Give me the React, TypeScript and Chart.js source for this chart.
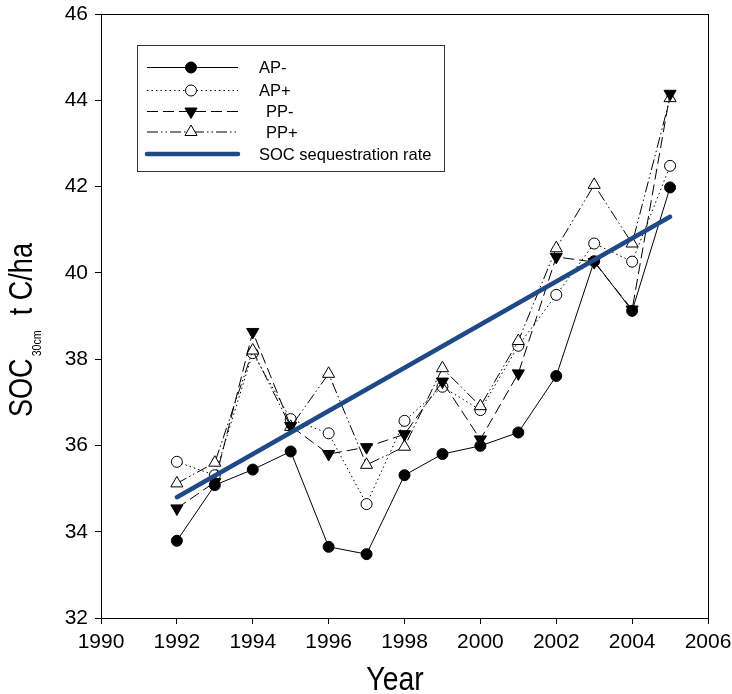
import React, { useEffect, useRef } from "react";
import { Chart, registerables } from "chart.js";

Chart.register(...registerables);

// ---- data ----
const years = [1992, 1993, 1994, 1995, 1996, 1997, 1998, 1999, 2000, 2001, 2002, 2003, 2004, 2005];
const apMinus = [33.79, 35.08, 35.44, 35.86, 33.65, 33.48, 35.31, 35.80, 35.99, 36.30, 37.61, 40.27, 39.12, 41.98];
const apPlus = [35.62, 35.31, 38.14, 36.61, 36.28, 34.64, 36.57, 37.36, 36.82, 38.31, 39.49, 40.68, 40.26, 42.48];
const ppMinus = [34.54, 35.15, 38.63, 36.45, 35.80, 35.96, 36.26, 37.48, 36.14, 37.67, 40.37, 40.25, 39.15, 44.15];
const ppPlus = [35.12, 35.60, 38.20, 36.43, 37.66, 35.55, 35.97, 37.79, 36.91, 38.42, 40.57, 42.04, 40.68, 44.05];
const trendYears = [1992, 2005];
const trendValues = [34.8, 41.3];

const seriesNames = ["AP-", "AP+", "PP-", "PP+", "SOC sequestration rate"];
const xTitle = "Year";
const yTitleMain = "SOC";
const yTitleSub = "30cm";
const yTitleRest = "t C/ha";

const xMin = 1990, xMax = 2006, xStep = 2;
const yMin = 32, yMax = 46, yStep = 2;

const SANS = '"Liberation Sans", Arial, sans-serif';
const BLUE = "#1f4a87";

const pts = (xs: number[], ys: number[]) => xs.map((x, i) => ({ x, y: ys[i] }));

function drawMarker(ctx: CanvasRenderingContext2D, style: string, r: number, rotDeg: number, fill: string, x: number, y: number) {
  ctx.save();
  ctx.lineWidth = 1;
  ctx.strokeStyle = "#000";
  ctx.fillStyle = fill;
  ctx.beginPath();
  if (style === "circle") {
    ctx.arc(x, y, r, 0, Math.PI * 2);
  } else if (style === "triangle") {
    let rad = (rotDeg * Math.PI) / 180;
    ctx.moveTo(x + Math.sin(rad) * r, y - Math.cos(rad) * r);
    rad += (2 * Math.PI) / 3;
    ctx.lineTo(x + Math.sin(rad) * r, y - Math.cos(rad) * r);
    rad += (2 * Math.PI) / 3;
    ctx.lineTo(x + Math.sin(rad) * r, y - Math.cos(rad) * r);
    ctx.closePath();
  }
  ctx.fill();
  ctx.stroke();
  ctx.restore();
}

const decorPlugin = {
  id: "decor",
  afterDraw(chart: any) {
    const ctx: CanvasRenderingContext2D = chart.ctx;
    const a = chart.chartArea;
    ctx.save();
    // frame
    ctx.strokeStyle = "#000";
    ctx.lineWidth = 1;
    ctx.strokeRect(Math.round(a.left) + 0.5, Math.round(a.top) + 0.5, Math.round(a.right - a.left), Math.round(a.bottom - a.top));

    // legend
    const lx = 137, ly = 45, lw = 307, lh = 126;
    ctx.fillStyle = "#fff";
    ctx.fillRect(lx, ly, lw, lh);
    ctx.strokeStyle = "#333";
    ctx.strokeRect(lx + 0.5, ly + 0.5, lw, lh);
    const rows = [67.5, 90.5, 111.5, 132, 154];
    const textX = [259, 259, 266, 266, 259];
    [0, 1, 2, 3, 4].forEach((di, i) => {
      const ds = chart.data.datasets[di];
      const y = rows[i];
      ctx.save();
      ctx.strokeStyle = ds.borderColor;
      ctx.lineWidth = ds.borderWidth;
      ctx.lineCap = ds.borderCapStyle || "butt";
      ctx.setLineDash(ds.borderDash || []);
      ctx.beginPath();
      ctx.moveTo(147, y);
      ctx.lineTo(238, y);
      ctx.stroke();
      ctx.restore();
      if (ds.pointRadius > 0) {
        drawMarker(ctx, ds.pointStyle, ds.pointRadius, ds.pointRotation || 0, ds.pointBackgroundColor, 191, y);
      }
      ctx.fillStyle = "#000";
      ctx.font = `16.5px ${SANS}`;
      ctx.textBaseline = "middle";
      ctx.textAlign = "left";
      ctx.fillText(ds.label, textX[i], y + 1);
    });

    // x title (condensed)
    ctx.save();
    ctx.fillStyle = "#000";
    ctx.font = `33px ${SANS}`;
    ctx.textAlign = "center";
    ctx.textBaseline = "alphabetic";
    ctx.translate(395, 690);
    ctx.scale(0.86, 1);
    ctx.fillText(xTitle, 0, 0);
    ctx.restore();

    // y title (rotated, condensed, with subscript)
    const sx = 0.82;
    const mainFont = `33px ${SANS}`;
    const subFont = `13px ${SANS}`;
    ctx.font = mainFont;
    const w1 = ctx.measureText(yTitleMain).width * sx;
    const wGap = ctx.measureText("  ").width * sx;
    ctx.font = subFont;
    const w2 = ctx.measureText(yTitleSub).width * sx;
    const bottom = 417;
    ctx.fillStyle = "#000";
    ctx.translate(32, bottom);
    ctx.rotate(-Math.PI / 2);
    ctx.scale(sx, 1);
    ctx.textAlign = "left";
    ctx.textBaseline = "alphabetic";
    ctx.font = mainFont;
    ctx.fillText(yTitleMain, 0, 0);
    ctx.font = subFont;
    ctx.fillText(yTitleSub, (w1 + 2) / sx, 9);
    ctx.font = mainFont;
    ctx.fillText(yTitleRest, (w1 + 2 + w2 + wGap) / sx, 0);
    ctx.restore();
  },
};

export default function App() {
  const ref = useRef<HTMLCanvasElement | null>(null);
  useEffect(() => {
    if (!ref.current) return;
    const lineBase = {
      borderColor: "#000",
      borderWidth: 1,
      pointBorderColor: "#000",
      pointBorderWidth: 1,
      pointHoverRadius: 0,
      fill: false,
      tension: 0,
    };
    const chart = new Chart(ref.current, {
      type: "line",
      data: {
        datasets: [
          {
            ...lineBase,
            label: seriesNames[0],
            data: pts(years, apMinus),
            pointStyle: "circle",
            pointRadius: 5.5,
            pointBackgroundColor: "#000",
            order: 1,
          },
          {
            ...lineBase,
            label: seriesNames[1],
            data: pts(years, apPlus),
            borderDash: [1.5, 3],
            pointStyle: "circle",
            pointRadius: 5.5,
            pointBackgroundColor: "#fff",
            order: 4,
          },
          {
            ...lineBase,
            label: seriesNames[2],
            data: pts(years, ppMinus),
            borderDash: [11, 5],
            pointStyle: "triangle",
            pointRotation: 180,
            pointRadius: 7,
            pointBackgroundColor: "#000",
            order: 2,
          },
          {
            ...lineBase,
            label: seriesNames[3],
            data: pts(years, ppPlus),
            borderDash: [11, 3, 1.5, 3, 1.5, 3],
            pointStyle: "triangle",
            pointRadius: 7,
            pointBackgroundColor: "#fff",
            order: 3,
          },
          {
            label: seriesNames[4],
            data: pts(trendYears, trendValues),
            borderColor: BLUE,
            borderWidth: 4.5,
            borderCapStyle: "round",
            pointRadius: 0,
            pointHoverRadius: 0,
            fill: false,
            order: 0,
          },
        ] as any,
      },
      options: {
        animation: false,
        responsive: false,
        events: [],
        layout: { padding: { top: 14, right: 24, left: 0, bottom: 0 } },
        plugins: { legend: { display: false }, tooltip: { enabled: false }, title: { display: false } },
        scales: {
          x: {
            type: "linear",
            min: xMin,
            max: xMax,
            ticks: {
              stepSize: xStep,
              color: "#000",
              font: { family: SANS, size: 21 },
              padding: 6,
              maxRotation: 0,
              callback: (v: any) => String(v),
            },
            grid: { drawOnChartArea: false, drawTicks: true, tickLength: 6, color: "#000", lineWidth: 1 },
            border: { display: true, color: "#000", width: 1 },
            afterFit: (s: any) => {
              s.height = 76;
              s.paddingLeft = 0;
              s.paddingRight = 0;
            },
          },
          y: {
            type: "linear",
            min: yMin,
            max: yMax,
            ticks: {
              stepSize: yStep,
              color: "#000",
              font: { family: SANS, size: 21 },
              padding: 7,
              callback: (v: any) => String(v),
            },
            grid: { drawOnChartArea: false, drawTicks: true, tickLength: 6, color: "#000", lineWidth: 1 },
            border: { display: true, color: "#000", width: 1 },
            afterFit: (s: any) => {
              s.width = 101;
              s.paddingTop = 0;
              s.paddingBottom = 0;
            },
          },
        },
      } as any,
      plugins: [decorPlugin],
    });
    return () => chart.destroy();
  }, []);
  return (
    <div style={{ position: "absolute", left: 0, top: 0, width: 732, height: 694, background: "#fff" }}>
      <canvas ref={ref} width={732} height={694} />
    </div>
  );
}
